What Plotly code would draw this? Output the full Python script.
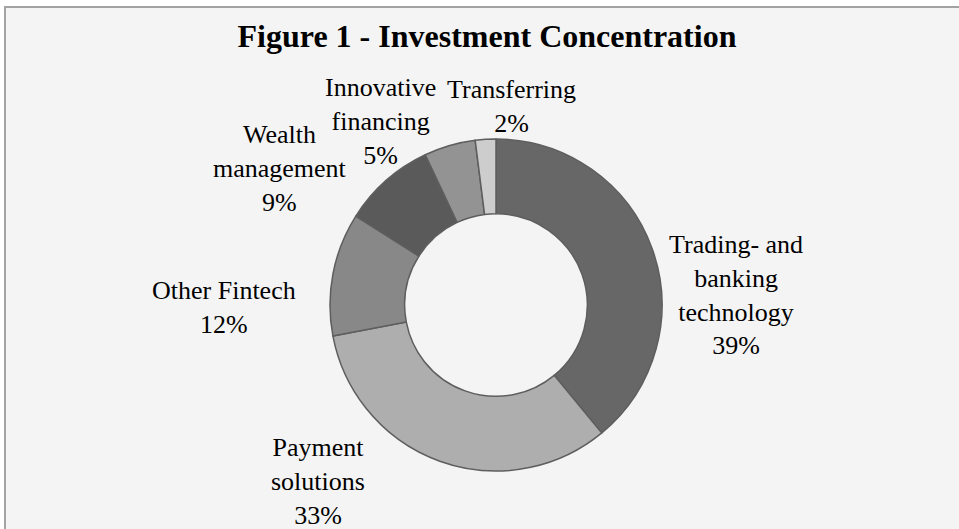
import plotly.graph_objects as go

categories = ['Trading- and<br>banking<br>technology', 'Payment<br>solutions', 'Other Fintech',
              'Wealth<br>management', 'Innovative<br>financing', 'Transferring']
shares = [39, 33, 12, 9, 5, 2]

slice_colors = ['#676767', '#aeaeae', '#888888', '#5a5a5a', '#939393', '#cdcdcd']
# label block centres in pixels (x, y from top)
label_pos = [(736, 295), (318, 481), (224, 307), (280, 169), (380, 122), (511, 106)]

W, H = 959, 529
cx, cy, rad = 496, 305, 166

fig = go.Figure()

fig.add_trace(go.Pie(
    labels=categories,
    values=shares,
    sort=False,
    direction='clockwise',
    rotation=0,
    hole=0.55,
    textinfo='none',
    hoverinfo='skip',
    showlegend=False,
    marker=dict(colors=slice_colors, line=dict(color='#5e5e5e', width=1.5)),
    domain=dict(x=[(cx - rad) / W, (cx + rad) / W], y=[1 - (cy + rad) / H, 1 - (cy - rad) / H]),
))

annotations = []
for lab, v, (px, py) in zip(categories, shares, label_pos):
    annotations.append(dict(
        x=px / W, y=1 - py / H, xref='paper', yref='paper',
        text=f'{lab}<br>{v}%', showarrow=False,
        xanchor='center', yanchor='middle', align='center',
        font=dict(family='Liberation Serif', size=26, color='black'),
    ))

fig.update_layout(
    width=W, height=H,
    margin=dict(l=0, r=0, t=0, b=0),
    paper_bgcolor='white',
    plot_bgcolor='white',
    title=dict(text='<b>Figure 1 - Investment Concentration</b>', x=487 / W, xanchor='center',
               y=1 - 36 / H, yanchor='middle',
               font=dict(family='Liberation Serif', size=32, color='black')),
    annotations=annotations,
    shapes=[dict(type='rect', xref='paper', yref='paper', layer='below',
                 x0=5 / W, x1=1.05, y0=-0.05, y1=1 - 7 / H,
                 fillcolor='#f4f4f4', line=dict(color='#a3a3a3', width=2))],
)

fig.write_html('out.html', config={'displayModeBar': False},
               post_script="document.body.style.margin='0';")
